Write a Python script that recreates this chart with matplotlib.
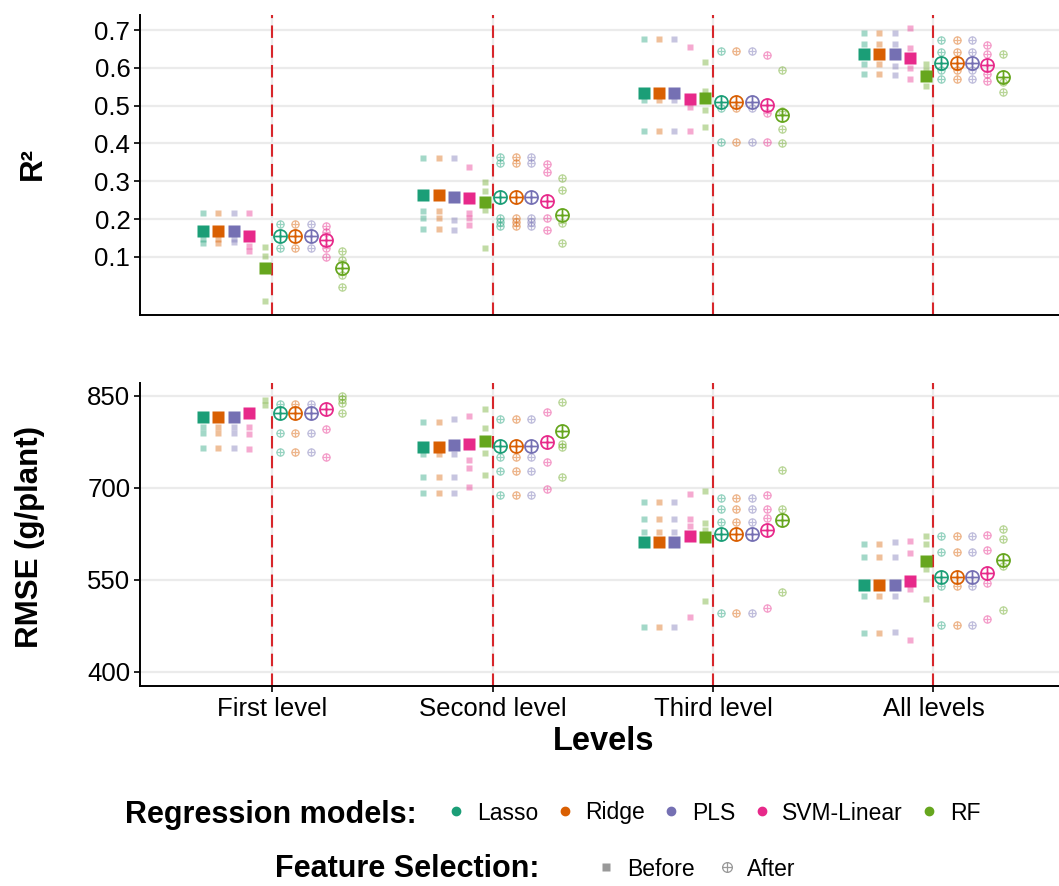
import numpy as np
import matplotlib
matplotlib.use("Agg")
import matplotlib.pyplot as plt
from matplotlib.path import Path
from matplotlib.lines import Line2D

plt.rcParams["font.family"] = ["Liberation Sans", "DejaVu Sans"]

levels = ["First level", "Second level", "Third level", "All levels"]
models = ["Lasso", "Ridge", "PLS", "SVM-Linear", "RF"]
model_colors = ["#1B9E77", "#D95F02", "#7570B3", "#E7298A", "#66A61E"]

# mean per level, one value per model (Lasso, Ridge, PLS, SVM-Linear, RF)
r2_before_mean = [
    [0.168, 0.168, 0.169, 0.155, 0.070],
    [0.263, 0.263, 0.257, 0.255, 0.244],
    [0.534, 0.534, 0.534, 0.517, 0.521],
    [0.636, 0.636, 0.636, 0.627, 0.579],
]
r2_after_mean = [
    [0.156, 0.156, 0.156, 0.144, 0.071],
    [0.259, 0.259, 0.259, 0.248, 0.210],
    [0.510, 0.510, 0.510, 0.502, 0.475],
    [0.614, 0.614, 0.614, 0.607, 0.576],
]
# individual runs
r2_before_pts = [
    [[0.215, 0.146, 0.136], [0.215, 0.146, 0.136], [0.215, 0.148, 0.139],
     [0.215, 0.129, 0.116], [0.127, 0.103, -0.017]],
    [[0.362, 0.221, 0.203, 0.173], [0.362, 0.221, 0.203, 0.173], [0.362, 0.197, 0.172],
     [0.338, 0.215, 0.203, 0.184], [0.299, 0.274, 0.224, 0.123]],
    [[0.676, 0.515, 0.433], [0.676, 0.515, 0.433], [0.676, 0.515, 0.433],
     [0.654, 0.496, 0.433], [0.616, 0.539, 0.488, 0.444]],
    [[0.693, 0.663, 0.609, 0.583], [0.693, 0.663, 0.609, 0.583], [0.693, 0.663, 0.606, 0.581],
     [0.706, 0.652, 0.601, 0.571], [0.610, 0.594, 0.552]],
]
r2_after_pts = [
    [[0.186, 0.123], [0.186, 0.123], [0.186, 0.123],
     [0.182, 0.165, 0.123, 0.100], [0.116, 0.092, 0.052, 0.021]],
    [[0.363, 0.349, 0.203, 0.193, 0.182], [0.363, 0.349, 0.203, 0.193, 0.182],
     [0.363, 0.349, 0.203, 0.193, 0.182], [0.345, 0.324, 0.202, 0.171],
     [0.309, 0.277, 0.189, 0.136]],
    [[0.645, 0.493, 0.405], [0.645, 0.493, 0.405], [0.645, 0.493, 0.405],
     [0.634, 0.481, 0.405], [0.594, 0.487, 0.437, 0.401]],
    [[0.674, 0.643, 0.594, 0.570], [0.674, 0.643, 0.594, 0.570], [0.674, 0.643, 0.594, 0.570],
     [0.660, 0.636, 0.585, 0.565], [0.636, 0.563, 0.537]],
]

# RF first-level means lie above the RMSE axis limit (not shown)
rmse_before_mean = [
    [816, 816, 815, 822, np.nan],
    [767, 767, 770, 772, 777],
    [611, 611, 611, 621, 620],
    [541, 541, 541, 548, 581],
]
rmse_after_mean = [
    [822, 822, 822, 828, np.nan],
    [769, 769, 769, 775, 793],
    [625, 625, 625, 632, 648],
    [555, 555, 555, 562, 583],
]
rmse_before_pts = [
    [[800, 790, 765], [800, 790, 765], [800, 790, 765], [800, 788, 763], [843, 835]],
    [[808, 755, 718, 691], [808, 755, 718, 691], [812, 755, 718, 691],
     [818, 746, 733, 702], [828, 798, 757, 721]],
    [[677, 649, 628, 474], [677, 649, 628, 474], [677, 649, 628, 474],
     [690, 649, 638, 490], [695, 643, 631, 515]],
    [[608, 587, 524, 464], [608, 587, 524, 464], [611, 587, 523, 465],
     [613, 594, 535, 452], [622, 608, 567, 519]],
]
rmse_after_pts = [
    [[837, 790, 759], [837, 790, 759], [837, 790, 759], [796, 751], [850, 845, 839, 822]],
    [[812, 750, 728, 689], [812, 750, 728, 689], [812, 750, 728, 689],
     [824, 742, 698], [840, 771, 767, 717]],
    [[684, 665, 645, 496], [684, 665, 645, 496], [684, 665, 645, 496],
     [689, 665, 651, 504], [729, 666, 530]],
    [[621, 595, 540, 476], [621, 595, 540, 476], [621, 595, 540, 476],
     [623, 598, 545, 486], [633, 617, 572, 501]],
]

# circle with a plus inside (ggplot shape 10)
oplus = Path.make_compound_path(
    Path.unit_circle(),
    Path([(-1, 0), (1, 0), (0, -1), (0, 1)],
         [Path.MOVETO, Path.LINETO, Path.MOVETO, Path.LINETO]),
)

DODGE = 0.07
GRID = "#ebebeb"


def draw_panel(ax, before_mean, after_mean, before_pts, after_pts):
    for li in range(len(levels)):
        xc = li + 1
        ax.axvline(xc, color=GRID, lw=1.6, zorder=0)
        ax.axvline(xc, color="#d7262b", lw=1.5, ls=(0, (6, 3.5)), zorder=1)
        for mi, col in enumerate(model_colors):
            xb = xc + (mi - 4.5) * DODGE
            xa = xc + (mi + 5 - 4.5) * DODGE
            pb = before_pts[li][mi]
            pa = after_pts[li][mi]
            ax.plot([xb] * len(pb), pb, ls="none", marker="s", ms=4.0,
                    color=col, alpha=0.4, mec="none", zorder=2)
            ax.plot([xa] * len(pa), pa, ls="none", marker=oplus, ms=5.2,
                    mfc="none", mec=col, mew=0.9, alpha=0.45, zorder=2)
            ax.plot([xb], [before_mean[li][mi]], ls="none", marker="s", ms=8.8,
                    color=col, mec="none", zorder=3)
            ax.plot([xa], [after_mean[li][mi]], ls="none", marker=oplus, ms=9.4,
                    mfc="none", mec=col, mew=1.25, zorder=3)
    ax.set_xlim(0.4, 4.57)
    ax.set_xticks(range(1, len(levels) + 1))
    for s in ["top", "right"]:
        ax.spines[s].set_visible(False)
    for s in ["left", "bottom"]:
        ax.spines[s].set_linewidth(1.4)
    ax.yaxis.grid(True, color=GRID, lw=1.6, zorder=0)
    ax.set_axisbelow(True)
    ax.tick_params(axis="y", length=4, width=1.2, labelsize=18.5, colors="black", pad=3)


fig = plt.figure(figsize=(10.59, 8.86), dpi=100)
ax1 = fig.add_axes([140 / 1059, 1 - 315 / 886, 919 / 1059, 300 / 886])
ax2 = fig.add_axes([140 / 1059, 1 - 686 / 886, 919 / 1059, 303 / 886])

draw_panel(ax1, r2_before_mean, r2_after_mean, r2_before_pts, r2_after_pts)
ax1.set_ylim(-0.054, 0.74)
ax1.set_yticks([0.1, 0.2, 0.3, 0.4, 0.5, 0.6, 0.7])
ax1.tick_params(axis="x", length=0, labelbottom=False)

draw_panel(ax2, rmse_before_mean, rmse_after_mean, rmse_before_pts, rmse_after_pts)
ax2.set_ylim(377, 871)
ax2.set_yticks([400, 550, 700, 850])
ax2.set_xticklabels(levels)
ax2.tick_params(axis="x", length=4, width=1.2, labelsize=18.5, pad=4)

fig.text(33 / 1059, 1 - 163 / 886, "R²", rotation=90, ha="center", va="center",
         fontsize=22.5, fontweight="bold")
fig.text(30 / 1059, 1 - 537 / 886, "RMSE (g/plant)", rotation=90, ha="center",
         va="center", fontsize=22.5, fontweight="bold")
fig.text(604 / 1059, 1 - 741 / 886, "Levels", ha="center", va="center",
         fontsize=23.5, fontweight="bold")

# legends
fig.text(125 / 1059, 1 - 815 / 886, "Regression models:", ha="left", va="center",
         fontsize=22, fontweight="bold")
model_handles = [Line2D([], [], ls="none", marker="o", ms=6, color=c, label=m)
                 for m, c in zip(models, model_colors)]
fig.legend(handles=model_handles, loc="center left", ncol=5, frameon=False,
           bbox_to_anchor=(422 / 1059, 1 - 813 / 886), fontsize=16.5,
           handletextpad=0.3, columnspacing=0.55, handlelength=1.2)

fig.text(275 / 1059, 1 - 869 / 886, "Feature Selection:", ha="left", va="center",
         fontsize=22, fontweight="bold")
fs_handles = [
    Line2D([], [], ls="none", marker="s", ms=6, color="#999999", mec="none", label="Before"),
    Line2D([], [], ls="none", marker=oplus, ms=7, mfc="none", mec="#999999", mew=0.9,
           label="After"),
]
fig.legend(handles=fs_handles, loc="center left", ncol=2, frameon=False,
           bbox_to_anchor=(572 / 1059, 1 - 869 / 886), fontsize=16.5,
           handletextpad=0.3, columnspacing=0.8, handlelength=1.2)

fig.savefig("out.png", dpi=100)
